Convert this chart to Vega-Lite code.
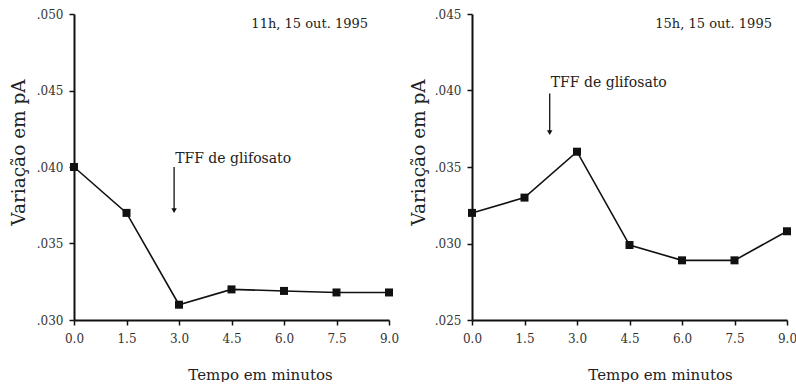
{
  "$schema": "https://vega.github.io/schema/vega-lite/v6.json",
  "autosize": {"type": "pad"},
  "padding": {"left": 8, "top": 8, "right": 0, "bottom": 0},
  "bounds": "flush",
  "spacing": 83,
  "background": "white",
  "config": {
    "view": {"stroke": null},
    "font": "DejaVu Serif",
    "axis": {
      "grid": false,
      "labelFlush": false,
      "domainColor": "#111",
      "domainWidth": 2,
      "tickColor": "#111",
      "tickWidth": 1.5,
      "tickSize": 5,
      "labelFont": "DejaVu Serif",
      "labelFontSize": 12,
      "labelColor": "#333",
      "titleFont": "DejaVu Serif",
      "titleFontWeight": "normal",
      "titleColor": "#222"
    }
  },
  "datasets": {
    "manha": [
      {"t": 0.0, "v": 0.0400},
      {"t": 1.5, "v": 0.0370},
      {"t": 3.0, "v": 0.0310},
      {"t": 4.5, "v": 0.0320},
      {"t": 6.0, "v": 0.0319},
      {"t": 7.5, "v": 0.0318},
      {"t": 9.0, "v": 0.0318}
    ],
    "tarde": [
      {"t": 0.0, "v": 0.0320},
      {"t": 1.5, "v": 0.0330},
      {"t": 3.0, "v": 0.0360},
      {"t": 4.5, "v": 0.0299},
      {"t": 6.0, "v": 0.0289},
      {"t": 7.5, "v": 0.0289},
      {"t": 9.0, "v": 0.0308}
    ],
    "seta_manha": [{"t": 2.86, "top": 0.0400, "bottom": 0.0371, "tip": 0.03715, "tt": 2.89, "tv": 0.0405, "label": "TFF de glifosato"}],
    "seta_tarde": [{"t": 2.22, "top": 0.0398, "bottom": 0.0372, "tip": 0.03725, "tt": 2.25, "tv": 0.0405, "label": "TFF de glifosato"}],
    "data_manha": [{"t": 8.4, "v": 0.04935, "label": "11h, 15 out. 1995"}],
    "data_tarde": [{"t": 8.57, "v": 0.04435, "label": "15h, 15 out. 1995"}]
  },
  "hconcat": [
    {
      "width": 315,
      "height": 306,
      "layer": [
        {
          "data": {"name": "manha"},
          "mark": {"type": "line", "color": "#111", "strokeWidth": 1.6},
          "encoding": {
            "x": {"field": "t", "type": "quantitative", "scale": {"domain": [0, 9], "nice": false},
              "axis": {"values": [0, 1.5, 3, 4.5, 6, 7.5, 9], "format": ".1f", "title": "Tempo em minutos", "titleFontSize": 15, "labelPadding": 8, "titleX": 186, "titleY": 47}},
            "y": {"field": "v", "type": "quantitative", "scale": {"domain": [0.03, 0.05], "zero": false, "nice": false},
              "axis": {"values": [0.03, 0.035, 0.04, 0.045, 0.05], "labelExpr": "replace(format(datum.value, '.3f'), '0.', '.')", "title": "Variação em pA", "titleFontSize": 18.5, "labelPadding": 6, "titleX": -46, "titleY": 138}}
          }
        },
        {
          "data": {"name": "manha"},
          "mark": {"type": "square", "color": "#111", "size": 64, "opacity": 1},
          "encoding": {
            "x": {"field": "t", "type": "quantitative"},
            "y": {"field": "v", "type": "quantitative"}
          }
        },
        {
          "data": {"name": "seta_manha"},
          "mark": {"type": "rule", "color": "#111", "strokeWidth": 1.3},
          "encoding": {
            "x": {"field": "t", "type": "quantitative"},
            "y": {"field": "top", "type": "quantitative"},
            "y2": {"field": "bottom"}
          }
        },
        {
          "data": {"name": "seta_manha"},
          "mark": {"type": "point", "shape": "triangle-down", "filled": true, "color": "#111", "size": 30, "opacity": 1},
          "encoding": {
            "x": {"field": "t", "type": "quantitative"},
            "y": {"field": "tip", "type": "quantitative"}
          }
        },
        {
          "data": {"name": "seta_manha"},
          "mark": {"type": "text", "align": "left", "baseline": "middle", "fontSize": 14, "color": "#222", "font": "DejaVu Serif"},
          "encoding": {
            "x": {"field": "tt", "type": "quantitative"},
            "y": {"field": "tv", "type": "quantitative"},
            "text": {"field": "label"}
          }
        },
        {
          "data": {"name": "data_manha"},
          "mark": {"type": "text", "align": "right", "baseline": "middle", "fontSize": 13, "color": "#222", "font": "DejaVu Serif"},
          "encoding": {
            "x": {"field": "t", "type": "quantitative"},
            "y": {"field": "v", "type": "quantitative"},
            "text": {"field": "label"}
          }
        }
      ]
    },
    {
      "width": 315,
      "height": 306,
      "layer": [
        {
          "data": {"name": "tarde"},
          "mark": {"type": "line", "color": "#111", "strokeWidth": 1.6},
          "encoding": {
            "x": {"field": "t", "type": "quantitative", "scale": {"domain": [0, 9], "nice": false},
              "axis": {"values": [0, 1.5, 3, 4.5, 6, 7.5, 9], "format": ".1f", "title": "Tempo em minutos", "titleFontSize": 15, "labelPadding": 8, "titleX": 188, "titleY": 47}},
            "y": {"field": "v", "type": "quantitative", "scale": {"domain": [0.025, 0.045], "zero": false, "nice": false},
              "axis": {"values": [0.025, 0.03, 0.035, 0.04, 0.045], "labelExpr": "replace(format(datum.value, '.3f'), '0.', '.')", "title": "Variação em pA", "titleFontSize": 18.5, "labelPadding": 6, "titleX": -44, "titleY": 138}}
          }
        },
        {
          "data": {"name": "tarde"},
          "mark": {"type": "square", "color": "#111", "size": 64, "opacity": 1},
          "encoding": {
            "x": {"field": "t", "type": "quantitative"},
            "y": {"field": "v", "type": "quantitative"}
          }
        },
        {
          "data": {"name": "seta_tarde"},
          "mark": {"type": "rule", "color": "#111", "strokeWidth": 1.3},
          "encoding": {
            "x": {"field": "t", "type": "quantitative"},
            "y": {"field": "top", "type": "quantitative"},
            "y2": {"field": "bottom"}
          }
        },
        {
          "data": {"name": "seta_tarde"},
          "mark": {"type": "point", "shape": "triangle-down", "filled": true, "color": "#111", "size": 30, "opacity": 1},
          "encoding": {
            "x": {"field": "t", "type": "quantitative"},
            "y": {"field": "tip", "type": "quantitative"}
          }
        },
        {
          "data": {"name": "seta_tarde"},
          "mark": {"type": "text", "align": "left", "baseline": "middle", "fontSize": 14, "color": "#222", "font": "DejaVu Serif"},
          "encoding": {
            "x": {"field": "tt", "type": "quantitative"},
            "y": {"field": "tv", "type": "quantitative"},
            "text": {"field": "label"}
          }
        },
        {
          "data": {"name": "data_tarde"},
          "mark": {"type": "text", "align": "right", "baseline": "middle", "fontSize": 13, "color": "#222", "font": "DejaVu Serif"},
          "encoding": {
            "x": {"field": "t", "type": "quantitative"},
            "y": {"field": "v", "type": "quantitative"},
            "text": {"field": "label"}
          }
        }
      ]
    }
  ]
}
